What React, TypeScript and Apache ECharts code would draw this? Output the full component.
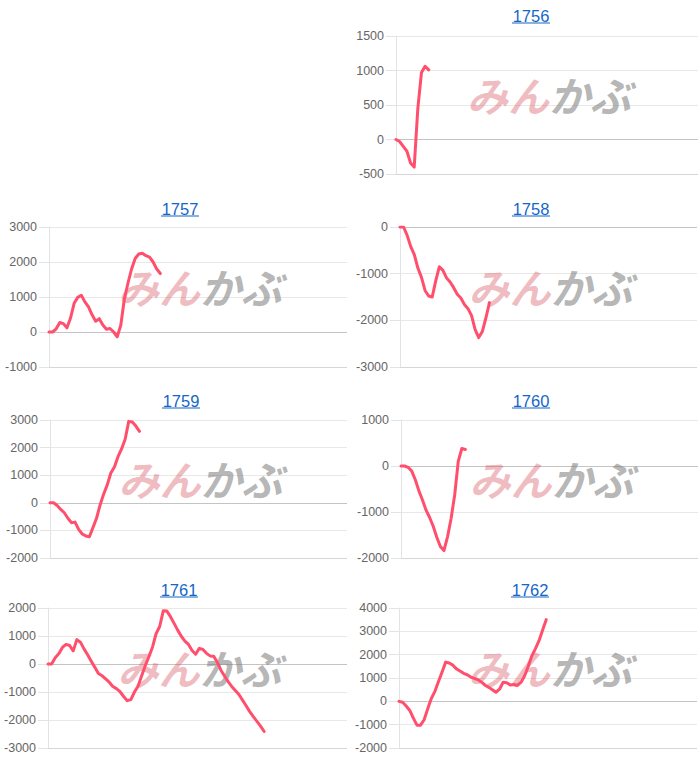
import React, { useEffect, useRef } from "react";
import * as echarts from "echarts";

// ---- data ----
const slotCount = 84;
const years = ["1756", "1757", "1758", "1759", "1760", "1761", "1762"];

const y1756 = [0, -30, -100, -170, -340, -400, 450, 970, 1060, 1010];
const y1757 = [0, 0, 90, 270, 240, 120, 400, 820, 990, 1050, 860, 720, 490, 310, 380, 200, 80, 100, 0, -140, 200, 950, 1400, 1800, 2100, 2230, 2250, 2180, 2140, 2000, 1800, 1670];
const y1758 = [0, 0, -180, -420, -590, -880, -1080, -1360, -1480, -1500, -1150, -850, -930, -1090, -1180, -1300, -1440, -1520, -1660, -1750, -1900, -2200, -2370, -2240, -1950, -1620];
const y1759 = [0, 0, -100, -240, -360, -560, -720, -700, -960, -1130, -1200, -1230, -900, -560, -80, 320, 650, 1080, 1300, 1670, 1950, 2300, 2950, 2930, 2780, 2590];
const y1760 = [0, 0, -30, -110, -300, -540, -740, -960, -1120, -1310, -1550, -1750, -1840, -1540, -1140, -630, 100, 380, 360];
const y1761 = [0, 0, 220, 370, 590, 700, 660, 470, 870, 780, 540, 330, 100, -120, -340, -420, -530, -650, -800, -880, -990, -1160, -1310, -1270, -1000, -790, -420, -60, 260, 600, 1080, 1340, 1900, 1890, 1690, 1450, 1210, 990, 820, 700, 480, 350, 560, 520, 380, 290, 280, 60, -220, -430, -630, -800, -950, -1090, -1290, -1490, -1700, -1880, -2050, -2220, -2410];
const y1762 = [0, -40, -200, -390, -720, -1020, -1020, -790, -320, 120, 430, 850, 1260, 1680, 1640, 1550, 1390, 1300, 1200, 1140, 1040, 980, 930, 820, 690, 600, 500, 390, 520, 820, 800, 700, 720, 680, 820, 1100, 1500, 1950, 2260, 2600, 3060, 3500];

const yMins = [-500, -1000, -3000, -2000, -2000, -3000, -2000];
const yMaxs = [1500, 3000, 0, 3000, 1000, 2000, 4000];
const yIntervals = [500, 1000, 1000, 1000, 1000, 1000, 1000];
const seriesData = [y1756, y1757, y1758, y1759, y1760, y1761, y1762];

// ---- layout (positions only) ----
const layout = [
  { left: 396, top: 36, width: 302, height: 138, tx: 531, ty: 16 },
  { left: 49, top: 227, width: 298, height: 140, tx: 180, ty: 209 },
  { left: 400, top: 227, width: 297, height: 140, tx: 531, ty: 209 },
  { left: 50, top: 420, width: 297, height: 138, tx: 181, ty: 401 },
  { left: 401, top: 420, width: 297, height: 138, tx: 531, ty: 401 },
  { left: 48, top: 608, width: 299, height: 140, tx: 179, ty: 590 },
  { left: 399, top: 608, width: 298, height: 140, tx: 530, ty: 590 },
];

const LINE_COLOR = "#ff4f6d";
const TITLE_COLOR = "#1467c8";
const FONT = "'Liberation Sans', Arial, Helvetica, sans-serif";

export default function App() {
  const ref = useRef<HTMLDivElement>(null);

  useEffect(() => {
    if (!ref.current) return;
    const chart = echarts.init(ref.current, undefined, { renderer: "svg" });
    const slots = Array.from({ length: slotCount }, (_, i) => String(i));

    const grids: any[] = [];
    const xAxes: any[] = [];
    const yAxes: any[] = [];
    const series: any[] = [];
    const graphics: any[] = [];

    years.forEach((yr, k) => {
      const L = layout[k];
      grids.push({ left: L.left, top: L.top, width: L.width, height: L.height, containLabel: false });
      xAxes.push({
        type: "category",
        gridIndex: k,
        data: slots,
        boundaryGap: false,
        show: false,
      });
      const splitColors: string[] = [];
      for (let v = yMins[k]; v <= yMaxs[k]; v += yIntervals[k]) {
        splitColors.push(v === 0 ? "#c4c4c4" : v === yMins[k] ? "#d6d6d6" : "#e8e8e8");
      }
      yAxes.push({
        type: "value",
        gridIndex: k,
        min: yMins[k],
        max: yMaxs[k],
        interval: yIntervals[k],
        axisLine: { show: true, lineStyle: { color: "#e3e3e3", width: 1 } },
        axisTick: { show: true, length: 10, lineStyle: { color: "#e3e3e3" } },
        splitLine: { show: true, lineStyle: { color: splitColors, width: 1 } },
        axisLabel: {
          color: "#666666",
          fontSize: 12.5,
          fontFamily: FONT,
          margin: 12,
          formatter: (v: number) => String(v),
        },
      });
      series.push({
        type: "line",
        xAxisIndex: k,
        yAxisIndex: k,
        data: seriesData[k],
        showSymbol: false,
        symbol: "none",
        lineStyle: { color: LINE_COLOR, width: 3, join: "round", cap: "round" },
        itemStyle: { color: LINE_COLOR },
        z: 5,
      });
      // title + underline
      graphics.push({
        type: "text",
        x: L.tx,
        y: L.ty,
        style: {
          text: yr,
          fill: TITLE_COLOR,
          font: `16.5px ${FONT}`,
          textAlign: "center",
          textVerticalAlign: "middle",
        },
        z: 10,
      });
      graphics.push({
        type: "line",
        shape: { x1: L.tx - 19, y1: L.ty + 7, x2: L.tx + 19, y2: L.ty + 7 },
        style: { stroke: TITLE_COLOR, lineWidth: 1.2 },
        z: 10,
      });
      // watermark
      const cx = L.left + L.width / 2;
      const cy = L.top + L.height * 0.42;
      graphics.push({
        type: "text",
        x: cx + 2,
        y: cy,
        style: {
          text: "みん",
          fill: "rgba(214, 80, 90, 0.38)",
          font: `italic bold 41px 'Noto Sans CJK JP', sans-serif`,
          textAlign: "right",
          textVerticalAlign: "middle",
        },
        z: 1,
      });
      graphics.push({
        type: "text",
        x: cx + 2,
        y: cy,
        style: {
          text: "かぶ",
          fill: "rgba(120, 120, 120, 0.55)",
          font: `italic bold 41px 'Noto Sans CJK JP', sans-serif`,
          textAlign: "left",
          textVerticalAlign: "middle",
        },
        z: 1,
      });
    });

    chart.setOption({
      animation: false,
      backgroundColor: "#ffffff",
      grid: grids,
      xAxis: xAxes,
      yAxis: yAxes,
      series,
      graphic: graphics,
    });
    return () => chart.dispose();
  }, []);

  return (
    <div
      ref={ref}
      style={{ position: "absolute", left: 0, top: 0, width: 700, height: 764 }}
    />
  );
}
